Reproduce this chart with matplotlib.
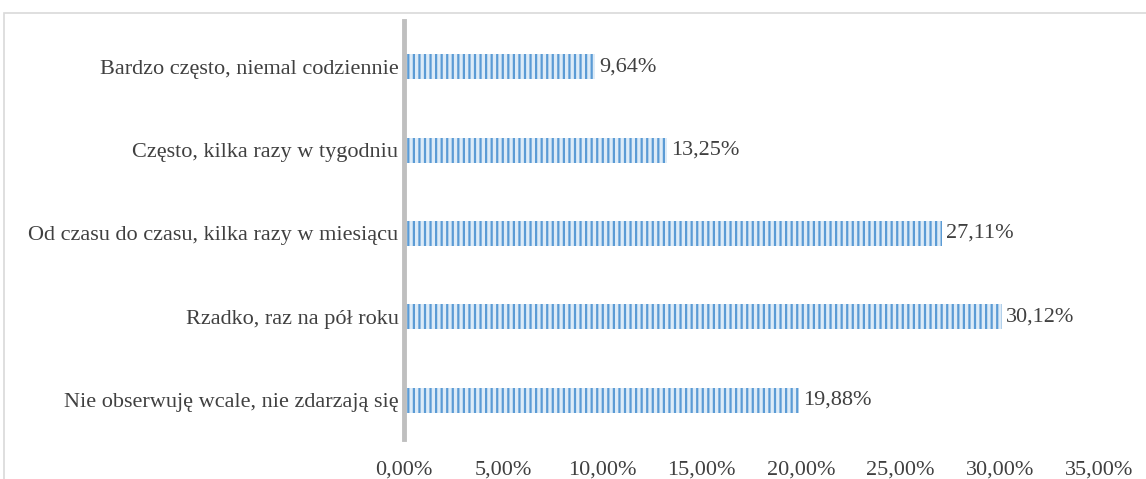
import matplotlib.pyplot as plt
from matplotlib.patches import Rectangle
from matplotlib.ticker import FuncFormatter

categories = [
    "Bardzo często, niemal codziennie",
    "Często, kilka razy w tygodniu",
    "Od czasu do czasu, kilka razy w miesiącu",
    "Rzadko, raz na pół roku",
    "Nie obserwuję wcale, nie zdarzają się",
]
values = [9.64, 13.25, 27.11, 30.12, 19.88]
x_ticks = [0, 5, 10, 15, 20, 25, 30, 35]

plt.rcParams['font.family'] = ['Liberation Serif', 'DejaVu Serif']
plt.rcParams['hatch.linewidth'] = 1.6

fig = plt.figure(figsize=(11.46, 4.79), dpi=100)
ax = fig.add_axes([404 / 1146, 1 - 442 / 479, (1099 - 404) / 1146, (442 - 25) / 479])

ypos = list(range(len(categories)))[::-1]
bars = ax.barh(ypos, values, height=0.3, color='#DDEBF7', edgecolor='#5B9BD5',
               linewidth=0, hatch='|||')

for y, v in zip(ypos, values):
    ax.text(v + 0.2, y, f"{v:.2f}%".replace('.', ','), va='center', ha='left',
            fontsize=16, color='#404040')

ax.set_xlim(0, 35)
ax.set_ylim(-0.5, len(categories) - 0.5)
ax.set_xticks(x_ticks)
ax.xaxis.set_major_formatter(FuncFormatter(lambda x, p: f"{x:.2f}%".replace('.', ',')))
ax.set_yticks(ypos)
ax.set_yticklabels(categories)
ax.tick_params(axis='both', length=0, labelsize=16, labelcolor='#404040')
ax.tick_params(axis='x', pad=13)
ax.tick_params(axis='y', pad=4)

for s in ['top', 'right', 'bottom']:
    ax.spines[s].set_visible(False)
ax.spines['left'].set_color('#BFBFBF')
ax.spines['left'].set_linewidth(3.5)
ax.spines['left'].set_bounds(-0.47, 4.55)

fig.patches.append(Rectangle((4 / 1146, -0.1), 1.2, 1 - 13 / 479 + 0.1, transform=fig.transFigure,
                             fill=False, edgecolor='#D9D9D9', linewidth=1.2, zorder=0))

fig.savefig("out.png", dpi=100)
